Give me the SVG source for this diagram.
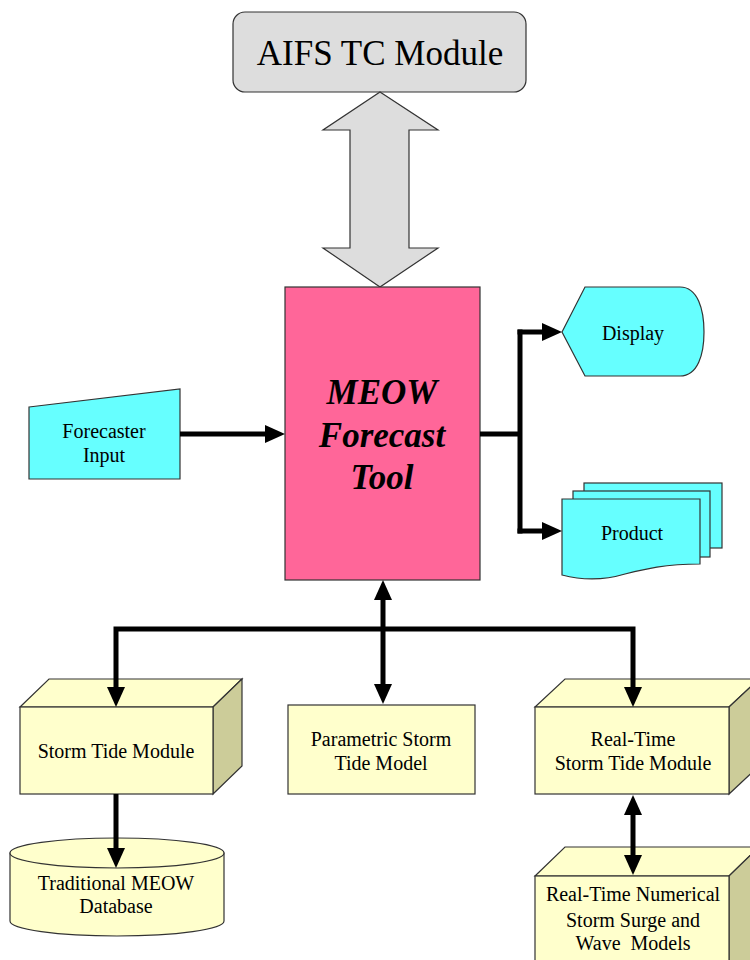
<svg xmlns="http://www.w3.org/2000/svg" width="750" height="960" viewBox="0 0 750 960">
  <defs>
    <style>
      .lbl { font-family: "Liberation Serif", "Times New Roman", serif; font-size: 20px; fill: #000; text-anchor: middle; }
      .big { font-family: "Liberation Serif", "Times New Roman", serif; font-size: 35px; fill: #000; text-anchor: middle; }
      .bold { font-family: "Liberation Serif", "Times New Roman", serif; font-size: 35px; font-weight: bold; font-style: italic; fill: #000; text-anchor: middle; }
      .edge { stroke: #333; stroke-width: 1.2; }
      .cyan { fill: #66ffff; }
      .yel { fill: #ffffcc; }
      .side { fill: #cccc99; }
      .conn { fill: none; stroke: #000; stroke-width: 5; }
    </style>
    <marker id="arrow" viewBox="0 0 20 18" markerUnits="userSpaceOnUse" markerWidth="20" markerHeight="18" refX="1" refY="9" orient="auto-start-reverse">
      <path d="M0,0 L20,9 L0,18 Z" fill="#000"/>
    </marker>
  </defs>
  <rect width="750" height="960" fill="#fff"/>

  <!-- AIFS module -->
  <g id="aifs">
    <rect x="233" y="12" width="293" height="80" rx="12" fill="#dddddd" class="edge"/>
    <text class="big" x="380" y="65">AIFS TC Module</text>
  </g>

  <!-- wide two-way exchange arrow -->
  <g id="exchange">
    <polygon points="380,92 438,130 409,130 409,248 438,248 380,287 323,248 350,248 350,130 323,130" fill="#dddddd" class="edge"/>
  </g>

  <!-- central tool -->
  <g id="meow">
    <rect x="285" y="287" width="195" height="293" fill="#ff6699" class="edge"/>
    <text class="bold" x="382" y="404">MEOW</text>
    <text class="bold" x="382" y="447">Forecast</text>
    <text class="bold" x="382" y="489">Tool</text>
  </g>

  <!-- manual input -->
  <g id="forecaster">
    <polygon points="29,407 180,389 180,479 29,479" class="cyan edge"/>
    <text class="lbl" x="104" y="438">Forecaster</text>
    <text class="lbl" x="104" y="462">Input</text>
  </g>

  <!-- display -->
  <g id="display">
    <path d="M562,332 L585,287 H680 C698,287 704,310 704,332 C704,354 698,376 680,376 H585 Z" class="cyan edge"/>
    <text class="lbl" x="633" y="340">Display</text>
  </g>

  <!-- product documents -->
  <g id="product">
    <rect x="584" y="483" width="138" height="65" class="cyan edge"/>
    <rect x="573" y="491" width="137" height="66" class="cyan edge"/>
    <path d="M562,499 H700 V564 C665,564 645,569 625,574 C605,580 585,581 562,575 Z" class="cyan edge"/>
    <text class="lbl" x="632" y="540">Product</text>
  </g>

  <!-- storm tide module -->
  <g id="storm-tide">
    <polygon points="20,707 49,679 242,679 213,707" class="yel edge"/>
    <polygon points="213,707 242,679 242,766 213,794" class="side edge"/>
    <rect x="20" y="707" width="193" height="87" class="yel edge"/>
    <text class="lbl" x="116" y="758">Storm Tide Module</text>
  </g>

  <!-- parametric model -->
  <g id="parametric">
    <rect x="288" y="705" width="187" height="89" class="yel edge"/>
    <text class="lbl" x="381" y="746">Parametric Storm</text>
    <text class="lbl" x="381" y="770">Tide Model</text>
  </g>

  <!-- real-time module -->
  <g id="realtime">
    <polygon points="535,707 565,679 759,679 729,707" class="yel edge"/>
    <polygon points="729,707 759,679 759,766 729,794" class="side edge"/>
    <rect x="535" y="707" width="194" height="87" class="yel edge"/>
    <text class="lbl" x="633" y="746">Real-Time</text>
    <text class="lbl" x="633" y="770">Storm Tide Module</text>
  </g>

  <!-- database -->
  <g id="database">
    <path d="M10,853 V921 A107,15 0 0 0 224,921 V853 Z" class="yel edge"/>
    <ellipse cx="117" cy="853" rx="107" ry="15" class="yel edge"/>
    <text class="lbl" x="116" y="890">Traditional MEOW</text>
    <text class="lbl" x="116" y="913">Database</text>
  </g>

  <!-- numerical models -->
  <g id="numerical">
    <polygon points="535,876 565,847 759,847 729,876" class="yel edge"/>
    <polygon points="729,876 759,847 759,960 729,975" class="side edge"/>
    <rect x="535" y="876" width="194" height="100" class="yel edge"/>
    <text class="lbl" x="633" y="901">Real-Time Numerical</text>
    <text class="lbl" x="633" y="927">Storm Surge and</text>
    <text class="lbl" x="633" y="950" xml:space="preserve">Wave  Models</text>
  </g>

  <!-- connectors -->
  <g id="connectors">
    <path class="conn" d="M180,434 H266" marker-end="url(#arrow)"/>
    <path class="conn" d="M480,434 H520"/>
    <path class="conn" d="M520,329.5 V533.5"/>
    <path class="conn" d="M517.5,332 H543" marker-end="url(#arrow)"/>
    <path class="conn" d="M517.5,531 H543" marker-end="url(#arrow)"/>
    <path class="conn" d="M383,599 V685" marker-start="url(#arrow)" marker-end="url(#arrow)"/>
    <path class="conn" d="M116,688 V629 H633 V688" marker-start="url(#arrow)" marker-end="url(#arrow)"/>
    <path class="conn" d="M116,794 V849" marker-end="url(#arrow)"/>
    <path class="conn" d="M633,814 V856" marker-start="url(#arrow)" marker-end="url(#arrow)"/>
  </g>
</svg>
